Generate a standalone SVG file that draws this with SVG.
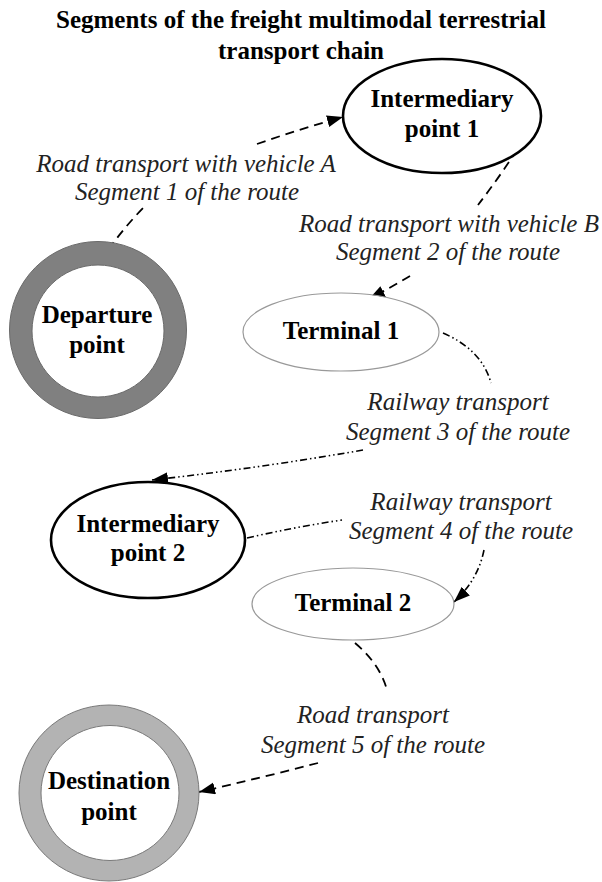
<svg xmlns="http://www.w3.org/2000/svg" width="602" height="882" viewBox="0 0 602 882">
<style>
  .title{font-family:"Liberation Serif","Times New Roman",serif;font-weight:bold;font-size:25px;fill:#000;text-anchor:middle}
  .node{font-family:"Liberation Serif","Times New Roman",serif;font-weight:bold;font-size:25px;fill:#000;text-anchor:middle}
  .lbl{font-family:"Liberation Serif","Times New Roman",serif;font-style:italic;font-size:25px;fill:#222;text-anchor:middle}
  .strong{fill:#fff;stroke:#000;stroke-width:2.6}
  .thin{fill:#fff;stroke:#999;stroke-width:1.2}
  .road{fill:none;stroke:#000;stroke-width:1.8;stroke-dasharray:9 6}
  .rail{fill:none;stroke:#000;stroke-width:1.6;stroke-dasharray:7 3 1.5 3 1.5 3}
</style>
<defs>
  <marker id="arr" markerUnits="userSpaceOnUse" markerWidth="18" markerHeight="14" refX="16" refY="6" orient="auto">
    <path d="M0,0 L16,6 L0,12 Z" fill="#000"/>
  </marker>
</defs>
<rect width="602" height="882" fill="#fff"/>
<g id="title">
  <text class="title" x="301" y="28">Segments of the freight multimodal terrestrial</text>
  <text class="title" x="301" y="59">transport chain</text>
</g>
<g id="connectors">
  <path class="road" d="M100,262 Q118,234 143,208"/>
  <path class="road" d="M257,144 Q300,129 343,117" marker-end="url(#arr)"/>
  <path class="road" d="M533,124 Q508,166 478,205"/>
  <path class="road" d="M410,276 Q390,288 369,299" marker-end="url(#arr)"/>
  <path class="rail" d="M443,333 Q482,350 491,383"/>
  <path class="rail" d="M363,450 Q260,468 152,480" marker-end="url(#arr)"/>
  <path class="rail" d="M247,538 Q295,527 342,520"/>
  <path class="rail" d="M484,550 Q478,580 454,602" marker-end="url(#arr)"/>
  <path class="road" d="M355,643 Q380,664 387,690"/>
  <path class="road" d="M318,763 Q260,778 199,792" marker-end="url(#arr)"/>
</g>
<g id="labels">
  <text class="lbl" x="186" y="172">Road transport with vehicle A</text>
  <text class="lbl" x="187" y="200">Segment 1 of the route</text>
  <text class="lbl" x="449" y="232">Road transport with vehicle B</text>
  <text class="lbl" x="448" y="260">Segment 2 of the route</text>
  <text class="lbl" x="458" y="410">Railway transport</text>
  <text class="lbl" x="458" y="440">Segment 3 of the route</text>
  <text class="lbl" x="461" y="510">Railway transport</text>
  <text class="lbl" x="461" y="539">Segment 4 of the route</text>
  <text class="lbl" x="373" y="723">Road transport</text>
  <text class="lbl" x="373" y="753">Segment 5 of the route</text>
</g>
<g id="departure">
  <circle cx="98" cy="330" r="88.5" fill="#808080" stroke="#6a6a6a" stroke-width="1"/>
  <circle cx="98" cy="331" r="66" fill="#fff" stroke="#6a6a6a" stroke-width="1"/>
  <text class="node" x="97" y="323">Departure</text>
  <text class="node" x="97" y="353">point</text>
</g>
<g id="intermediary1">
  <ellipse class="strong" cx="442" cy="116" rx="99" ry="57"/>
  <text class="node" x="442" y="107">Intermediary</text>
  <text class="node" x="442" y="137">point 1</text>
</g>
<g id="terminal1">
  <ellipse class="thin" cx="341" cy="332" rx="98" ry="39"/>
  <text class="node" x="341" y="339">Terminal 1</text>
</g>
<g id="intermediary2">
  <ellipse class="strong" cx="148" cy="540" rx="97" ry="58"/>
  <text class="node" x="148" y="532">Intermediary</text>
  <text class="node" x="148" y="561">point 2</text>
</g>
<g id="terminal2">
  <ellipse class="thin" cx="353" cy="604" rx="101" ry="36"/>
  <text class="node" x="353" y="611">Terminal 2</text>
</g>
<g id="destination">
  <ellipse cx="109" cy="793" rx="90" ry="88" fill="#b3b3b3" stroke="#7a7a7a" stroke-width="1"/>
  <ellipse cx="110" cy="793" rx="69" ry="67.5" fill="#fff" stroke="#7a7a7a" stroke-width="1"/>
  <text class="node" x="109" y="789">Destination</text>
  <text class="node" x="109" y="820">point</text>
</g>
</svg>
